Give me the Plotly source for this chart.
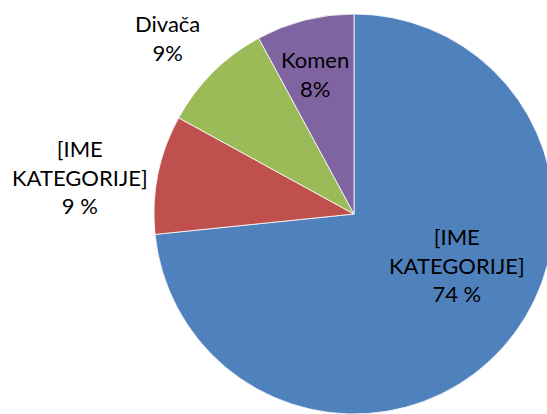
import plotly.graph_objects as go

categories = ["[IME KATEGORIJE]", "[IME KATEGORIJE]", "Divača", "Komen"]
values = [73.3, 9.6, 9.1, 7.9]
pct_labels = ["74 %", "9 %", "9%", "8%"]
colors = ["#4F81BD", "#C0504D", "#9BBB59", "#8064A2"]

W, H = 560, 414

fig = go.Figure()
fig.add_trace(go.Pie(
    values=values,
    text=categories,
    sort=False,
    direction="clockwise",
    rotation=0,
    textinfo="none",
    hoverinfo="text+percent",
    marker=dict(colors=colors, line=dict(color="white", width=0.8)),
    domain=dict(x=[154 / W, 554 / W], y=[0, 400 / H]),
    showlegend=False,
))

# label placement (style only), text built from data
label_pos = [(457, 265), (80, 177), (167, 38), (315, 74)]
for cat, pct, (px, py) in zip(categories, pct_labels, label_pos):
    txt = cat.replace(" ", "<br>") + "<br>" + pct
    fig.add_annotation(
        x=px / W, y=1 - py / H, xref="paper", yref="paper",
        text=txt, showarrow=False, xanchor="center", yanchor="middle",
        align="center", font=dict(family="Lato", size=22, color="black"),
    )

fig.update_layout(
    width=W, height=H,
    margin=dict(l=0, r=0, t=0, b=0),
    paper_bgcolor="white", plot_bgcolor="white",
)

fig.write_html(
    "out.html",
    config={"displayModeBar": False},
    post_script="document.documentElement.style.overflow='hidden';document.body.style.overflow='hidden';document.body.style.margin='0';",
)
